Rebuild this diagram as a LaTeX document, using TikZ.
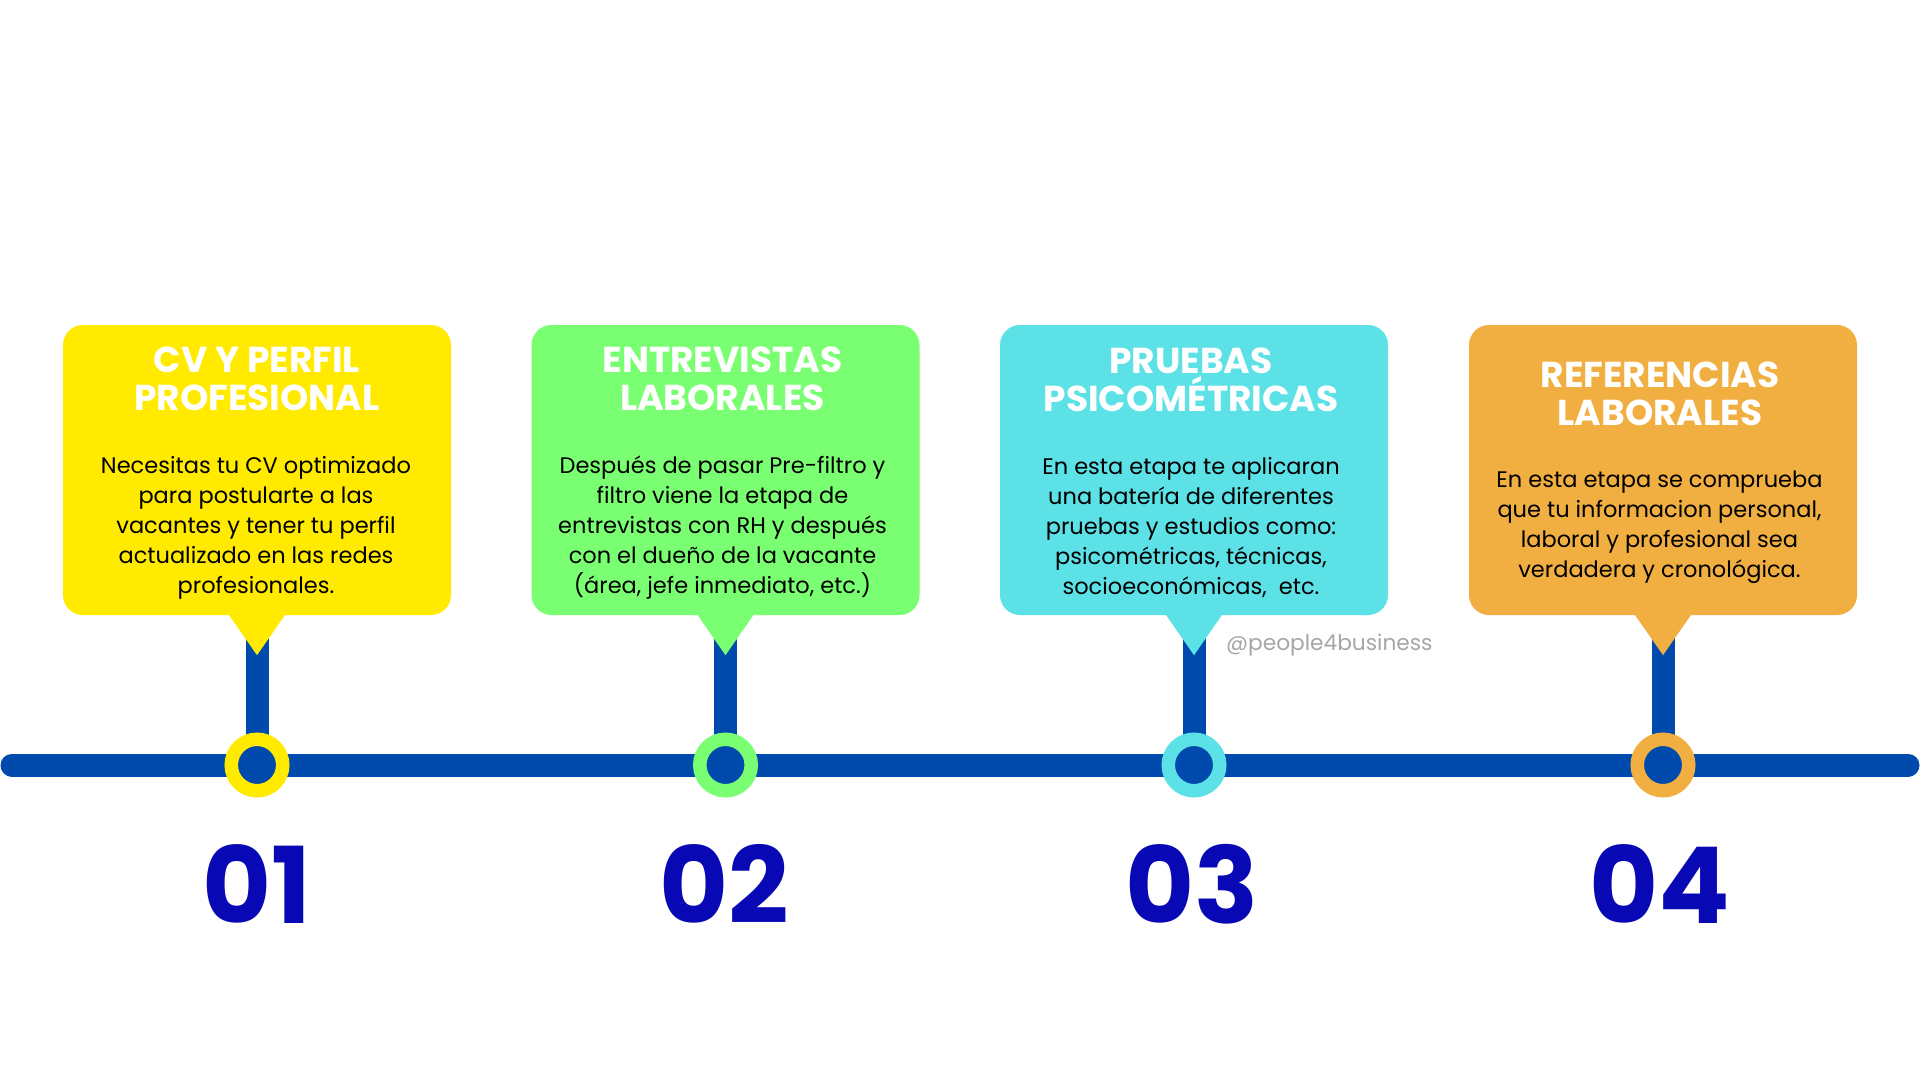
\documentclass[tikz,border=0pt]{standalone}
\usepackage{fontspec}
\setmainfont{Poppins}
\definecolor{lineblue}{HTML}{004AAD}
\definecolor{numblue}{HTML}{0808B5}
\definecolor{cyel}{HTML}{FFEA00}
\definecolor{cgrn}{HTML}{79FF71}
\definecolor{ccyn}{HTML}{5CE1E6}
\definecolor{corg}{HTML}{F1AF42}
\definecolor{wmgray}{HTML}{A6A6A6}
\begin{document}
\begin{tikzpicture}[x=1pt,y=-1pt,
  card/.style={fill=#1, rounded corners=20pt, minimum width=388pt, minimum height=290pt, inner sep=0pt},
  tip/.style={fill=#1},
  stem/.style={draw=lineblue, line width=23pt},
  dot/.style={circle, fill=lineblue, draw=#1, line width=13.5pt, minimum size=51.5pt, inner sep=0pt},
  title/.style={anchor=base, text=white, align=center, inner sep=0pt, font=\bfseries\fontsize{36}{38}\selectfont},
  body/.style={anchor=base, text=black, align=center, inner sep=0pt, font=\fontsize{22.5}{30}\selectfont},
  num/.style={anchor=base, text=numblue, inner sep=0pt, font=\bfseries\fontsize{106}{106}\selectfont},
  wmark/.style={anchor=base west, text=wmgray, inner sep=0pt, font=\fontsize{21.7}{26}\selectfont}
]
\useasboundingbox[fill=white] (0,0) rectangle (1920,1080);

% timeline
\coordinate (tl) at (12,765);
\coordinate (tr) at (1908,765);
\draw[line width=23pt, lineblue, line cap=round] (tl) -- (tr);

% circle positions
\coordinate (p1) at (257,765);
\coordinate (p2) at (725.5,765);
\coordinate (p3) at (1194,765);
\coordinate (p4) at (1663,765);

% cards
\node[card=cyel] (b1) at (257,470) {};
\node[card=cgrn] (b2) at (725.5,470) {};
\node[card=ccyn] (b3) at (1194,470) {};
\node[card=corg] (b4) at (1663,470) {};

% stems
\draw[stem] ([yshift=-20pt]b1.south) -- (p1);
\draw[stem] ([yshift=-20pt]b2.south) -- (p2);
\draw[stem] ([yshift=-20pt]b3.south) -- (p3);
\draw[stem] ([yshift=-20pt]b4.south) -- (p4);

% pointers
\foreach \b/\c in {b1/cyel,b2/cgrn,b3/ccyn,b4/corg}{
  \fill[tip=\c] ([xshift=-28.5pt,yshift=1pt]\b.south) -- ([xshift=28.5pt,yshift=1pt]\b.south) -- ([yshift=-40pt]\b.south) -- cycle;
}

% circles
\node[dot=cyel] (c1) at (p1) {};
\node[dot=cgrn] (c2) at (p2) {};
\node[dot=ccyn] (c3) at (p3) {};
\node[dot=corg] (c4) at (p4) {};

% titles (anchor = baseline of last line)
\node[title] (t1) at (257,410) {CV Y PERFIL\\PROFESIONAL};
\node[title] (t2) at (722.5,410) {ENTREVISTAS\\LABORALES};
\node[title] (t3) at (1191,411.7) {PRUEBAS\\PSICOMÉTRICAS};
\node[title] (t4) at (1660,425.7) {REFERENCIAS\\LABORALES};

% bodies (anchor = baseline of last line)
\node[body] (d1) at (256,593) {Necesitas tu CV optimizado\\para postularte a las\\vacantes y tener tu perfil\\actualizado en las redes\\profesionales.};
\node[body] (d2) at (722.5,593) {Después de pasar Pre-filtro y\\filtro viene la etapa de\\entrevistas con RH y después\\con el dueño de la vacante\\(área, jefe inmediato, etc.)};
\node[body] (d3) at (1191,594) {En esta etapa te aplicaran\\una batería de diferentes\\pruebas y estudios como:\\psicométricas, técnicas,\\socioeconómicas,~ etc.};
\node[body] (d4) at (1659.5,577.5) {En esta etapa se comprueba\\que tu informacion personal,\\laboral y profesional sea\\verdadera y cronológica.};

% watermark
\node[wmark] (wm) at (1226,650) {@people4business};

% numbers
\node[num] (n1) at (257,923) {01};
\node[num] (n2) at (724,923) {02};
\node[num] (n3) at (1192,923) {03};
\node[num] (n4) at (1660,923) {04};
\end{tikzpicture}
\end{document}
